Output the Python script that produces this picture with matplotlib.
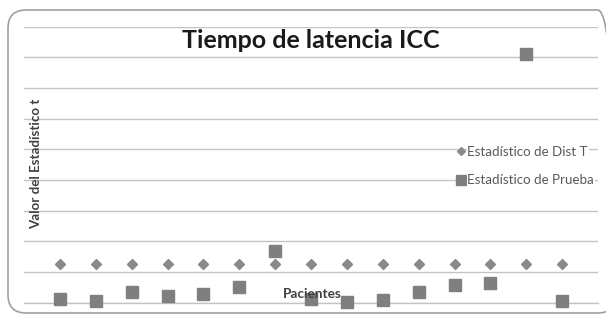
import matplotlib
matplotlib.use("Agg")
import matplotlib.pyplot as plt
from matplotlib.patches import FancyBboxPatch

pacientes = list(range(1, 16))
dist_t = [1.26] * 15
prueba = [0.11, 0.05, 0.34, 0.21, 0.27, 0.52, 1.69, 0.11, 0.01, 0.09,
          0.35, 0.58, 0.63, 8.11, 0.07]
titulo = "Tiempo de latencia ICC"
ylab = "Valor del Estadístico t"
xlab = "Pacientes"
serie1 = "Estadístico de Dist T"
serie2 = "Estadístico de Prueba"

FONT = "Lato"
W, H = 606, 316
fig = plt.figure(figsize=(W / 100, H / 100), dpi=100)
fig.patch.set_facecolor("white")

# outer rounded frame
frame = FancyBboxPatch((8 / W, 3 / H), (W - 8 + 10) / W, (313 - 10) / H,
                       boxstyle="round,pad=0,rounding_size=0.03",
                       transform=fig.transFigure, facecolor="none",
                       edgecolor="#a0a0a0", linewidth=1.2, mutation_aspect=W / H,
                       zorder=-1)
fig.patches.append(frame)

left, right = 24 / W, 598 / W
bottom, top = (H - 302.7) / H, (H - 26.7) / H
ax = fig.add_axes([left, bottom, right - left, top - bottom])
ax.set_facecolor("none")
ax.set_xlim(0, 16)
ax.set_ylim(0, 9)
ax.set_yticks(range(0, 10))
ax.set_xticks([])
ax.tick_params(axis="y", length=0, labelleft=False)
for s in ["left", "right", "top"]:
    ax.spines[s].set_visible(False)
ax.spines["bottom"].set_color("#c4c4c4")
ax.spines["bottom"].set_linewidth(1.0)
ax.grid(axis="y", color="#c4c4c4", linewidth=1.0)
ax.set_axisbelow(True)

ax.plot(pacientes, dist_t, linestyle="none", marker="D", markersize=5.3,
        color="#8a8a8a", label=serie1, clip_on=False, zorder=3)
ax.plot(pacientes, prueba, linestyle="none", marker="s", markersize=8.0,
        color="#7f7f7f", label=serie2, clip_on=False, zorder=3)

fig.text(311 / W, (H - 40) / H, titulo, ha="center", va="center",
         fontsize=18, fontweight="bold", family=FONT, color="#1a1a1a")
fig.text(36 / W, (H - 164) / H, ylab, ha="center", va="center", rotation=90,
         fontsize=9.6, fontweight="bold", family=FONT, color="#404040")
fig.text(312 / W, (H - 294) / H, xlab, ha="center", va="center",
         fontsize=9.8, fontweight="bold", family=FONT, color="#404040",
         zorder=5)

leg = ax.legend(loc="upper left", bbox_to_anchor=(450 / W, (H - 139) / H),
                bbox_transform=fig.transFigure, frameon=False,
                prop={"family": FONT, "size": 9.6},
                handlelength=0.6, handletextpad=0.2, labelspacing=1.25,
                borderpad=0, labelcolor="#595959", markerscale=0.85)
for t in leg.get_texts():
    t.set_bbox(dict(facecolor="white", edgecolor="none", pad=0.5))

fig.savefig("out.png", dpi=100, facecolor="white")
